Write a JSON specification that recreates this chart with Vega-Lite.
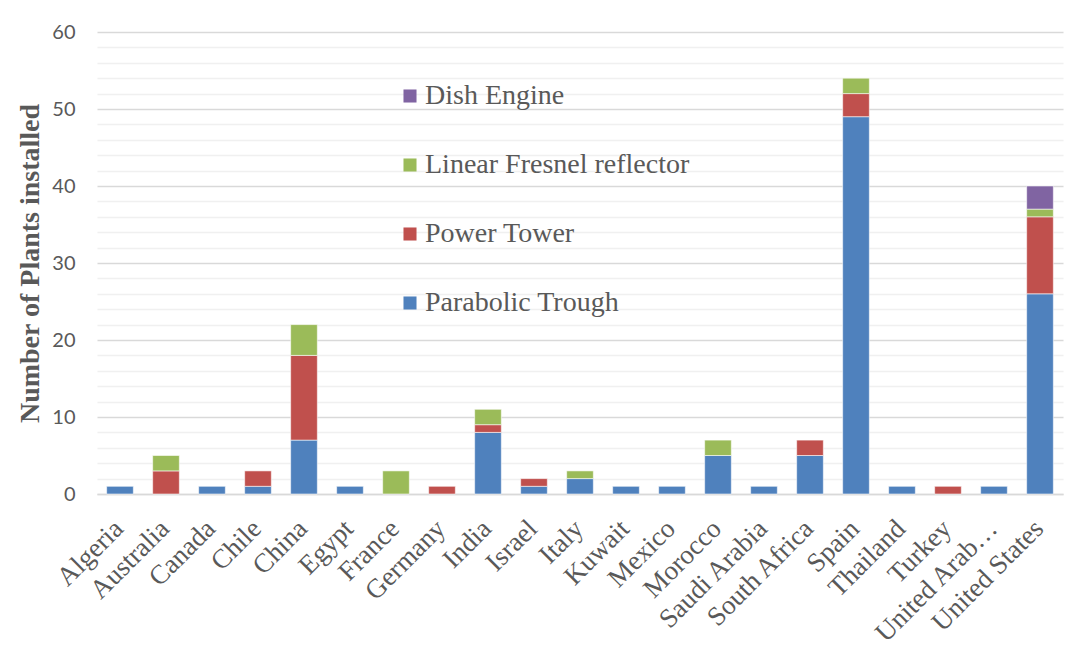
{
  "$schema": "https://vega.github.io/schema/vega-lite/v6.json",
  "width": 966,
  "height": 462,
  "autosize": {"type": "none"},
  "padding": {"left": 97, "top": 32, "right": 16, "bottom": 174},
  "background": "white",
  "config": {"view": {"stroke": null}},
  "data": {
    "values": [
      {"country": "Algeria", "type": "Parabolic Trough", "plants": 1},
      {"country": "Australia", "type": "Power Tower", "plants": 3},
      {"country": "Australia", "type": "Linear Fresnel reflector", "plants": 2},
      {"country": "Canada", "type": "Parabolic Trough", "plants": 1},
      {"country": "Chile", "type": "Parabolic Trough", "plants": 1},
      {"country": "Chile", "type": "Power Tower", "plants": 2},
      {"country": "China", "type": "Parabolic Trough", "plants": 7},
      {"country": "China", "type": "Power Tower", "plants": 11},
      {"country": "China", "type": "Linear Fresnel reflector", "plants": 4},
      {"country": "Egypt", "type": "Parabolic Trough", "plants": 1},
      {"country": "France", "type": "Linear Fresnel reflector", "plants": 3},
      {"country": "Germany", "type": "Power Tower", "plants": 1},
      {"country": "India", "type": "Parabolic Trough", "plants": 8},
      {"country": "India", "type": "Power Tower", "plants": 1},
      {"country": "India", "type": "Linear Fresnel reflector", "plants": 2},
      {"country": "Israel", "type": "Parabolic Trough", "plants": 1},
      {"country": "Israel", "type": "Power Tower", "plants": 1},
      {"country": "Italy", "type": "Parabolic Trough", "plants": 2},
      {"country": "Italy", "type": "Linear Fresnel reflector", "plants": 1},
      {"country": "Kuwait", "type": "Parabolic Trough", "plants": 1},
      {"country": "Mexico", "type": "Parabolic Trough", "plants": 1},
      {"country": "Morocco", "type": "Parabolic Trough", "plants": 5},
      {"country": "Morocco", "type": "Linear Fresnel reflector", "plants": 2},
      {"country": "Saudi Arabia", "type": "Parabolic Trough", "plants": 1},
      {"country": "South Africa", "type": "Parabolic Trough", "plants": 5},
      {"country": "South Africa", "type": "Power Tower", "plants": 2},
      {"country": "Spain", "type": "Parabolic Trough", "plants": 49},
      {"country": "Spain", "type": "Power Tower", "plants": 3},
      {"country": "Spain", "type": "Linear Fresnel reflector", "plants": 2},
      {"country": "Thailand", "type": "Parabolic Trough", "plants": 1},
      {"country": "Turkey", "type": "Power Tower", "plants": 1},
      {"country": "United Arab…", "type": "Parabolic Trough", "plants": 1},
      {"country": "United States", "type": "Parabolic Trough", "plants": 26},
      {"country": "United States", "type": "Power Tower", "plants": 10},
      {"country": "United States", "type": "Linear Fresnel reflector", "plants": 1},
      {"country": "United States", "type": "Dish Engine", "plants": 3}
    ]
  },
  "transform": [
    {
      "calculate": "indexof(['Parabolic Trough', 'Power Tower', 'Linear Fresnel reflector', 'Dish Engine'], datum.type)",
      "as": "stackRank"
    }
  ],
  "mark": {"type": "bar", "stroke": "white", "strokeWidth": 0.8, "strokeOpacity": 0.7},
  "encoding": {
    "x": {
      "field": "country",
      "type": "nominal",
      "sort": null,
      "scale": {"paddingInner": 0.42, "paddingOuter": 0.21},
      "axis": {
        "title": null,
        "labelAngle": -45,
        "labelFont": "Liberation Serif",
        "labelFontSize": 27,
        "labelColor": "#595959",
        "labelPadding": 21,
        "labelOffset": -10,
        "labelOverlap": false,
        "labelLimit": 300,
        "ticks": false,
        "domainColor": "#d9d9d9",
        "domainWidth": 1.5,
        "grid": false
      }
    },
    "y": {
      "field": "plants",
      "type": "quantitative",
      "aggregate": "sum",
      "stack": "zero",
      "scale": {"domain": [0, 60], "nice": false},
      "axis": {
        "title": "Number of Plants installed",
        "titleFont": "Liberation Serif",
        "titleFontSize": 28,
        "titleFontWeight": "bold",
        "titleColor": "#595959",
        "titlePadding": 7,
        "values": [0, 2, 4, 6, 8, 10, 12, 14, 16, 18, 20, 22, 24, 26, 28, 30, 32, 34, 36, 38, 40, 42, 44, 46, 48, 50, 52, 54, 56, 58, 60],
        "labelExpr": "datum.value % 10 === 0 ? datum.label : ''",
        "labelFont": "Lato",
        "labelFontSize": 20,
        "labelColor": "#595959",
        "labelPadding": 22,
        "ticks": false,
        "domain": false,
        "grid": true,
        "gridColor": {"condition": {"test": "datum.value % 10 === 0", "value": "#d9d9d9"}, "value": "#f0f0f0"},
        "gridWidth": 1.5
      }
    },
    "color": {
      "field": "type",
      "type": "nominal",
      "scale": {
        "domain": ["Parabolic Trough", "Power Tower", "Linear Fresnel reflector", "Dish Engine"],
        "range": ["#4f81bd", "#c0504d", "#9bbb59", "#8064a2"]
      },
      "legend": {
        "title": null,
        "orient": "none",
        "legendX": 299,
        "legendY": 50,
        "values": ["Dish Engine", "Linear Fresnel reflector", "Power Tower", "Parabolic Trough"],
        "symbolType": "square",
        "symbolSize": 170,
        "symbolStrokeWidth": 0,
        "labelFont": "Liberation Serif",
        "labelFontSize": 28,
        "labelColor": "#595959",
        "labelOffset": 1,
        "labelLimit": 400,
        "rowPadding": 41
      }
    },
    "order": {"field": "stackRank", "type": "quantitative", "sort": "ascending"}
  }
}
